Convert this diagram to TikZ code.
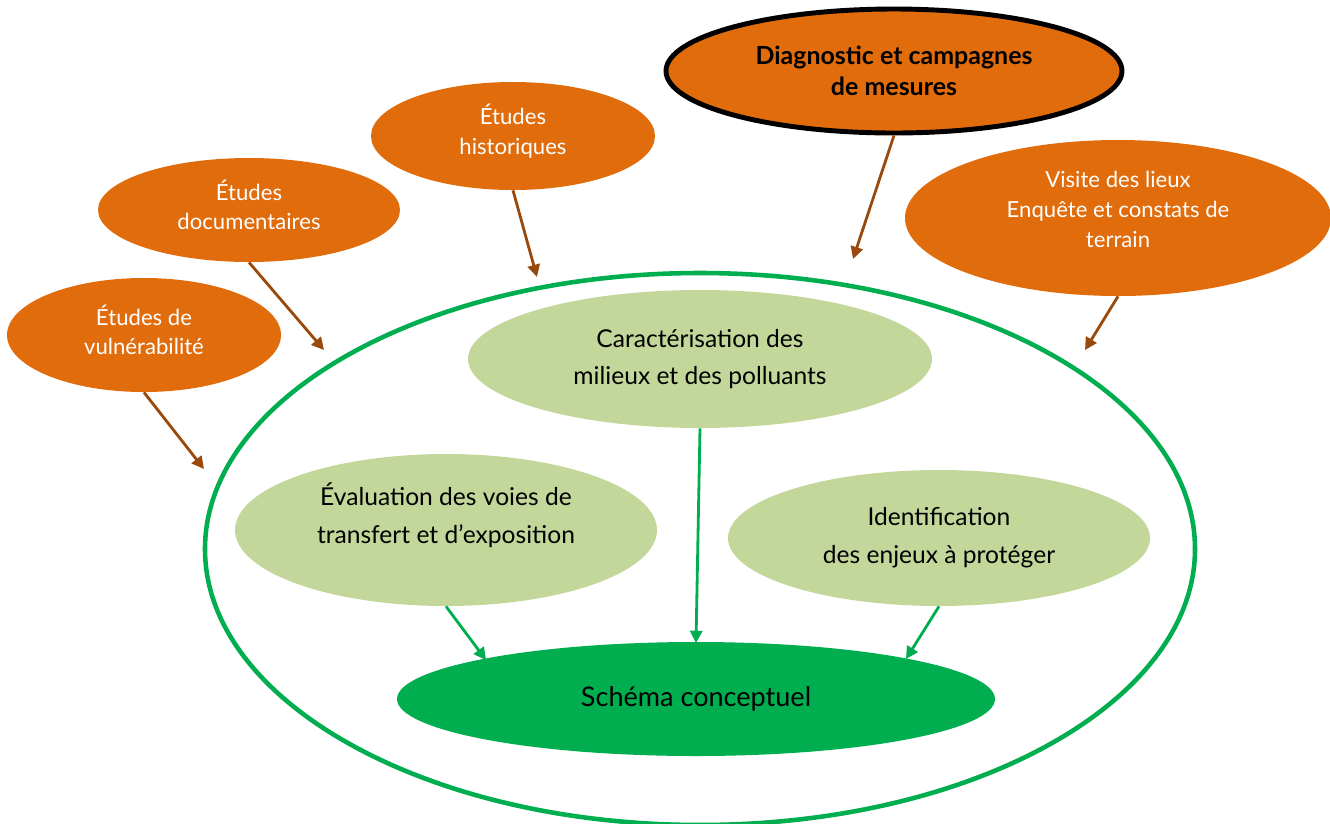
\documentclass[tikz,border=0pt]{standalone}
\usepackage{fontspec}
\setmainfont{Lato}
\usetikzlibrary{arrows.meta}
\usetikzlibrary{shapes, positioning}
\definecolor{orangeE}{HTML}{E16C0C}
\definecolor{vertclair}{HTML}{C4D79B}
\definecolor{vertfonce}{HTML}{00AE50}
\definecolor{brun}{HTML}{99490C}
\tikzset{
    bulle/.style n args={2}{ellipse, inner sep=0pt, align=center,
        minimum width=#1*0.02cm, minimum height=#2*0.02cm},
    etude/.style={fill=orangeE, text=white, font=\fontsize{12.6}{17}\selectfont},
    milieu/.style={fill=vertclair, text=black, font=\fontsize{14}{21.5}\selectfont},
    fleche/.style={-{Triangle[length=7pt,width=7pt]}, line width=1.6pt, draw=brun},
    flecheV/.style={-{Triangle[length=7pt,width=7pt]}, line width=1.6pt, draw=vertfonce}
}

\begin{document}
\begin{tikzpicture}[x=0.02cm, y=-0.02cm]
    \useasboundingbox (0,0) rectangle (1330,823);
    % cadre
    \node[bulle={990}{552}, draw=vertfonce, line width=2.6pt] (cadre) at (700,549) {};
    % sources
    \node[bulle={456}{124}, etude, draw=black, line width=2.8pt, text=black,
          font=\fontsize{14.2}{18}\selectfont\bfseries] (diag) at (894,71)
          {Diagnostic et campagnes\\de mesures};
    \node[bulle={426}{156}, etude, text depth=10pt] (visite) at (1118,218)
          {Visite des lieux\\Enquête et constats de\\terrain};
    \node[bulle={284}{108}, etude, text depth=8pt] (histo) at (513,136) {Études\\historiques};
    \node[bulle={302}{104}, etude, text depth=6pt] (docs) at (249,210) {Études\\documentaires};
    \node[bulle={274}{114}, etude, text depth=6pt] (vuln) at (144,335) {Études de\\vulnérabilité};
    % milieux
    \node[bulle={464}{138}, milieu] (carac) at (700,359)
          {Caractérisation des\\milieux et des polluants};
    \node[bulle={422}{152}, milieu, text depth=19pt] (eval) at (446,530)
          {Évaluation des voies de\\transfert et d’exposition};
    \node[bulle={422}{136}, milieu] (ident) at (939,538)
          {Identification\\des enjeux à protéger};
    \node[bulle={598}{114}, fill=vertfonce, font=\fontsize{15.4}{17}\selectfont] (schema) at (696,699)
          {Schéma conceptuel};
    % extremites libres
    \coordinate (p1) at (204,469);
    \coordinate (p2) at (324,350);
    \coordinate (p3) at (537,277);
    \coordinate (p4) at (853,259);
    \coordinate (p5) at (1085,350);
    \draw[fleche] (vuln.south) -- (p1);
    \draw[fleche] (docs.south) -- (p2);
    \draw[fleche] (histo.south) -- (p3);
    \draw[fleche] (diag.south) -- (p4);
    \draw[fleche] (visite.south) -- (p5);
    \coordinate (q1) at (486,660);
    \coordinate (q2) at (696,643);
    \coordinate (q3) at (906,659);
    \draw[flecheV] (eval.south) -- (q1);
    \draw[flecheV] (carac.south) -- (q2);
    \draw[flecheV] (ident.south) -- (q3);
\end{tikzpicture}
\end{document}
